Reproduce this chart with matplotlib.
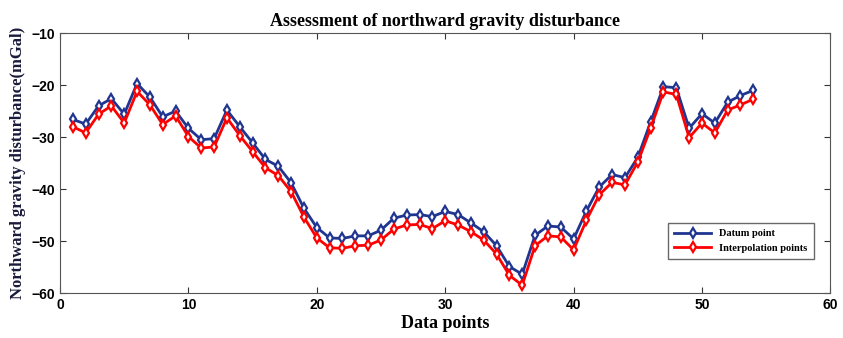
import matplotlib.pyplot as plt
import numpy as np

points = np.arange(1, 55)
datum = [-26.6, -27.5, -24.0, -22.6, -25.6, -19.7, -22.3, -26.1, -25.0, -28.3,
         -30.5, -30.3, -24.8, -28.0, -31.1, -34.3, -35.6, -38.8, -43.7, -47.4,
         -49.4, -49.5, -49.0, -49.0, -47.9, -45.6, -45.0, -44.9, -45.3, -44.3,
         -44.9, -46.5, -48.2, -50.9, -54.9, -56.4, -48.9, -47.1, -47.3, -49.6,
         -44.2, -39.6, -37.2, -37.8, -33.9, -27.1, -20.3, -20.5, -28.3, -25.5,
         -27.3, -23.3, -22.0, -21.0]
interp = [-28.0, -29.2, -25.6, -24.0, -27.3, -21.2, -23.8, -27.6, -25.9, -29.9,
          -32.1, -31.9, -26.3, -29.7, -32.8, -35.9, -37.4, -40.5, -45.4, -49.4,
          -51.3, -51.4, -50.9, -50.8, -49.8, -47.7, -46.9, -46.8, -47.6, -46.1,
          -46.9, -48.2, -49.8, -52.5, -56.6, -58.5, -50.9, -49.0, -49.2, -51.7,
          -46.0, -41.1, -38.7, -39.2, -34.8, -28.3, -21.3, -21.8, -30.1, -27.3,
          -29.2, -24.8, -23.8, -22.7]

fig = plt.figure(figsize=(8.43, 3.38), dpi=100)
ax = fig.add_axes([0.0712, 0.133, 0.9138, 0.769])

ax.plot(points, datum, color='#1f3590', lw=2, marker='d', ms=5,
        mfc='white', mew=1.6, label='Datum point')
ax.plot(points, interp, color='red', lw=2, marker='d', ms=5,
        mfc='white', mew=1.6, label='Interpolation points')

ax.set_xlim(0, 60)
ax.set_ylim(-60, -10)
ax.set_xticks(range(0, 61, 10))
ax.set_yticks(range(-60, -9, 10))
ax.tick_params(direction='in', top=True, right=True, length=4, color='#333333')
for lab in ax.get_xticklabels() + ax.get_yticklabels():
    lab.set_fontfamily('Liberation Sans')
    lab.set_fontweight('bold')
    lab.set_fontsize(10)
for s in ax.spines.values():
    s.set_color('#555555')

ax.set_title('Assessment of northward gravity disturbance', fontfamily='Liberation Serif',
             fontweight='bold', fontsize=13, pad=5)
ax.set_xlabel('Data points', fontfamily='Liberation Serif', fontweight='bold', fontsize=13, labelpad=2)
ax.set_ylabel('Northward gravity disturbance(mGal)', fontfamily='Liberation Serif',
              fontweight='bold', fontsize=12, color='#1a1a3a', labelpad=4)

leg = ax.legend(loc='lower right', bbox_to_anchor=(0.985, 0.11), fancybox=False,
                prop={'family': 'Liberation Serif', 'weight': 'bold', 'size': 7.5},
                handlelength=3.5, borderpad=0.6, labelspacing=0.5)
leg.get_frame().set_edgecolor('#444444')
leg.get_frame().set_linewidth(1)

plt.savefig('out.png', dpi=100)
